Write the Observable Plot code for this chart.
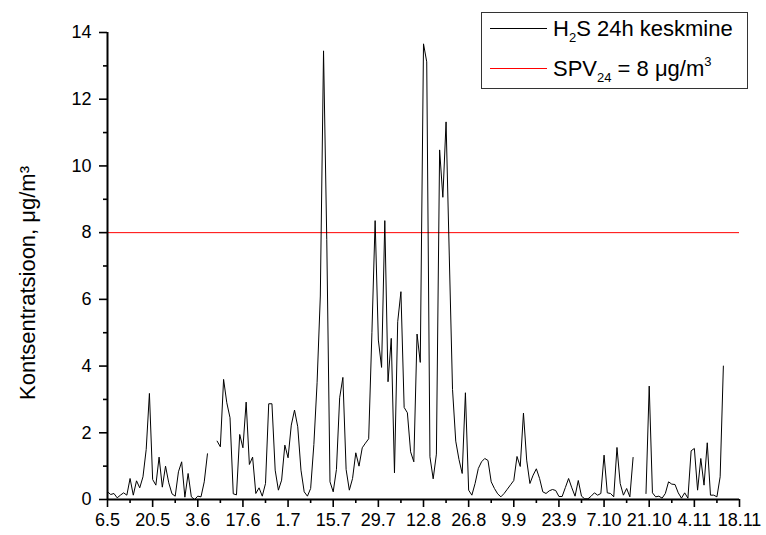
<!DOCTYPE html>
<html><head><meta charset="utf-8">
<script src="https://cdn.jsdelivr.net/npm/d3@7"></script>
<script src="https://cdn.jsdelivr.net/npm/@observablehq/plot@0.6"></script>
<style>
body{margin:0;background:#fff;font-family:"Liberation Sans",Arial,sans-serif;}
#wrap{position:relative;width:766px;height:535px;}
#legend{position:absolute;left:481px;top:12px;width:267px;height:77px;border:1px solid #333;box-sizing:border-box;font-size:22px;color:#000;}
#legend .ln{position:absolute;left:8px;width:57px;height:0;border-top:1px solid #000;}
#legend .tx{position:absolute;left:71px;white-space:nowrap;line-height:1;}
#legend sub{font-size:13px;vertical-align:-6px;line-height:0;}
#legend sup{font-size:13px;vertical-align:10px;line-height:0;}
</style></head>
<body><div id="wrap"></div>
<script>
// x tick labels (day.month), every 14 days starting 6.5
const dateLabels = ["6.5","20.5","3.6","17.6","1.7","15.7","29.7","12.8","26.8","9.9","23.9","7.10","21.10","4.11","18.11"];
// daily H2S 24h mean values from 6.5 onward (null = missing)
const values = [
0.23,0.15,0.18,0.05,0.13,0.2,0.13,0.63,0.13,0.56,
0.35,0.68,1.5,3.18,0.6,0.43,1.27,0.37,1.0,0.5,
0.17,0.1,0.83,1.13,0.07,0.78,0.08,0.0,0.1,0.08,
0.53,1.37,null,null,1.75,1.58,3.6,2.9,2.45,0.17,
0.14,1.95,1.55,2.92,1.05,1.27,0.18,0.35,0.1,0.48,
2.87,2.87,0.88,0.28,0.58,1.63,1.25,2.23,2.68,2.18,
0.88,0.23,0.1,0.33,1.65,3.5,6.1,13.45,7.8,0.53,
0.23,0.9,3.05,3.66,0.9,0.28,0.63,1.4,1.0,1.55,
1.69,1.82,5.0,8.36,4.78,3.96,8.36,3.53,4.83,0.8,
5.33,6.23,2.76,2.6,1.43,1.13,4.96,4.11,13.66,13.12,
1.28,0.62,1.36,10.48,9.06,11.32,7.3,3.3,1.75,1.2,
0.78,3.2,0.28,0.13,0.48,0.93,1.13,1.23,1.17,0.53,
0.33,0.17,0.08,0.18,0.31,0.44,0.57,1.29,0.99,2.59,
1.18,0.48,0.73,0.92,0.63,0.23,0.18,0.26,0.3,0.27,
0.09,0.09,0.36,0.63,0.35,0.1,0.57,0.1,0.02,0.02,
0.1,0.2,0.13,0.18,1.33,0.2,0.18,0.08,1.56,0.48,
0.13,0.33,0.08,1.26,null,null,null,0.18,3.4,0.2,
0.08,0.1,0.04,0.18,0.53,0.46,0.45,0.2,0.04,0.2,
0.04,1.46,1.53,0.28,1.23,0.43,1.7,0.13,0.13,0.08,
0.68,4.0
];
const limitValue = 8;
const yMajor = [0,2,4,6,8,10,12,14];
const yMinor = [1,3,5,7,9,11,13];
const yLabel = "Kontsentratsioon, μg/m³";

const data = values.map((v, i) => ({day: i, v}));
const xMajor = dateLabels.map((_, i) => i * 14);
const xMinor = dateLabels.slice(1).map((_, i) => i * 14 + 7);

const font = {fontFamily: '"Liberation Sans", Arial, sans-serif', fontSize: 18, color: "#000"};

const chart = Plot.plot({
  width: 766, height: 535,
  marginLeft: 107, marginRight: 27, marginTop: 32, marginBottom: 36,
  style: font,
  x: {domain: [0, 196], label: null},
  y: {domain: [0, 14], label: null},
  marks: [
    Plot.ruleY([limitValue], {stroke: "#ff0000", strokeWidth: 1}),
    Plot.line(data, {x: "day", y: "v", stroke: "#000", strokeWidth: 1}),
    Plot.axisX(xMajor, {tickSize: 8, tickPadding: 6, strokeWidth: 1.6, tickFormat: d => dateLabels[d / 14], fontSize: 18, label: null}),
    Plot.axisX(xMinor, {tickSize: 4, strokeWidth: 1.6, text: null, label: null}),
    Plot.axisY(yMajor, {tickSize: 8, tickPadding: 8, strokeWidth: 1.6, fontSize: 18, label: null}),
    Plot.axisY(yMinor, {tickSize: 4, strokeWidth: 1.6, text: null, label: null}),
    Plot.ruleY([0], {strokeWidth: 2, stroke: "#000"}),
    Plot.ruleX([0], {strokeWidth: 2, stroke: "#000"}),
    Plot.text([yLabel], {frameAnchor: "left", textAnchor: "middle", rotate: -90, dx: -80, dy: 17, text: d => d, fontSize: 22, fill: "#000"})
  ]
});
document.getElementById("wrap").appendChild(chart);

const legend = document.createElement("div");
legend.id = "legend";
legend.innerHTML = `
  <div class="ln" style="top:15px"></div>
  <div class="tx" style="top:5px">H<sub>2</sub>S 24h keskmine</div>
  <div class="ln" style="top:55px;border-top-color:#ff0000"></div>
  <div class="tx" style="top:45px">SPV<sub>24</sub> = 8 μg/m<sup>3</sup></div>`;
document.getElementById("wrap").appendChild(legend);
</script>
</body></html>
